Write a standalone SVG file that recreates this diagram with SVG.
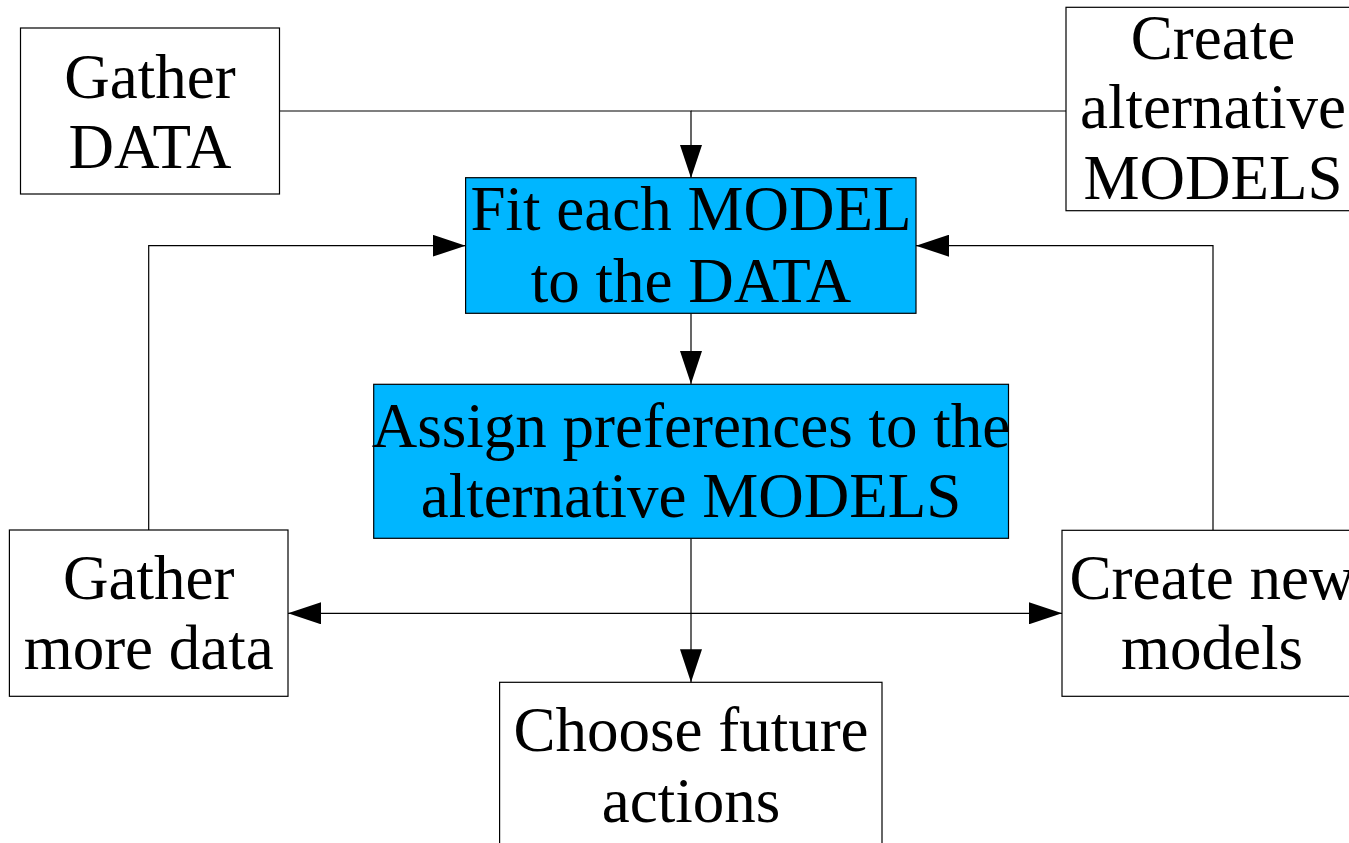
<svg xmlns="http://www.w3.org/2000/svg" width="1349" height="843" viewBox="0 0 1349 843">
<style>
.box{fill:#ffffff;stroke:#000000;stroke-width:1.2}
.hl{fill:#00b6ff;stroke:#000000;stroke-width:1.2}
.lbl{font-family:"Liberation Serif","Times New Roman",serif;font-size:63px;fill:#000000;text-anchor:middle}
.con{fill:none;stroke:#000000;stroke-width:1.2}
</style>
<defs>
<marker id="arr" markerUnits="userSpaceOnUse" markerWidth="34" markerHeight="22" refX="33" refY="11" orient="auto" viewBox="0 0 34 22">
<path d="M0,0 L33,11 L0,22 Z" fill="#000000"/>
</marker>
</defs>
<rect width="1349" height="843" fill="#ffffff"/>
<g id="connectors">
<path class="con" d="M279.5 111 H691 V178" marker-end="url(#arr)"/>
<path class="con" d="M1066 111 H691"/>
<path class="con" d="M691 313.5 V384" marker-end="url(#arr)"/>
<path class="con" d="M148.7 530 V245.7 H465.6" marker-end="url(#arr)"/>
<path class="con" d="M1213 530 V245.7 H916" marker-end="url(#arr)"/>
<path class="con" d="M691 538.5 V682.3" marker-end="url(#arr)"/>
<path class="con" d="M691 613.3 H288" marker-end="url(#arr)"/>
<path class="con" d="M691 613.3 H1062" marker-end="url(#arr)"/>
</g>
<g id="gather-data">
<rect class="box" x="20.5" y="28" width="259" height="166"/>
<text class="lbl" x="150" y="98">Gather</text>
<text class="lbl" x="150" y="168">DATA</text>
</g>
<g id="create-alternative-models">
<rect class="box" x="1066" y="7.3" width="296" height="203.4"/>
<text class="lbl" x="1213" y="59.3">Create</text>
<text class="lbl" x="1213" y="128.3">alternative</text>
<text class="lbl" x="1213" y="199.3">MODELS</text>
</g>
<g id="fit-model">
<rect class="hl" x="465.6" y="177.7" width="450.4" height="135.6"/>
<text class="lbl" x="691" y="230">Fit each MODEL</text>
<text class="lbl" x="691" y="301.5">to the DATA</text>
</g>
<g id="assign-preferences">
<rect class="hl" x="373.7" y="384.3" width="634.8" height="154"/>
<text class="lbl" x="691" y="447.3">Assign preferences to the</text>
<text class="lbl" x="691" y="516.7">alternative MODELS</text>
</g>
<g id="gather-more-data">
<rect class="box" x="9.4" y="530" width="278.6" height="166.3"/>
<text class="lbl" x="148.7" y="599.3">Gather</text>
<text class="lbl" x="148.7" y="669.3">more data</text>
</g>
<g id="create-new-models">
<rect class="box" x="1062" y="530.3" width="300" height="166"/>
<text class="lbl" x="1212" y="599.3">Create new</text>
<text class="lbl" x="1212" y="669.3">models</text>
</g>
<g id="choose-future-actions">
<rect class="box" x="499.6" y="682.3" width="382.4" height="180"/>
<text class="lbl" x="691" y="751">Choose future</text>
<text class="lbl" x="691" y="822">actions</text>
</g>
</svg>
